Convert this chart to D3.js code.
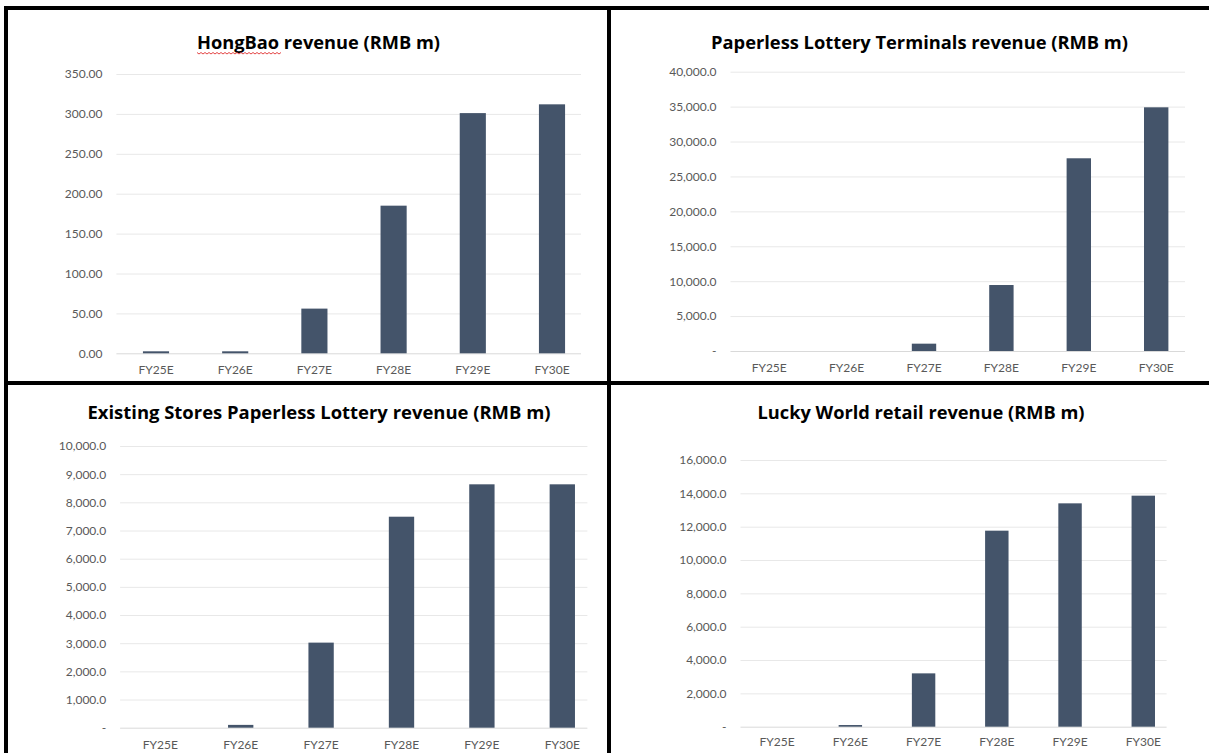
<!DOCTYPE html>
<html>
<head>
<meta charset="utf-8">
<script src="https://cdn.jsdelivr.net/npm/d3@7"></script>
<style>
  html, body { margin: 0; padding: 0; background: #fff; }
  svg { display: block; }
</style>
</head>
<body>
<svg id="chart" width="1209" height="753"></svg>
<script>
// ---------------- DATA ----------------
const categories = ["FY25E", "FY26E", "FY27E", "FY28E", "FY29E", "FY30E"];

const hongbaoRevenue        = [2.5, 2.5, 56, 185, 301, 312];
const terminalsRevenue      = [0, 0, 1050, 9450, 27600, 34900];
const existingStoresRevenue = [0, 100, 3020, 7490, 8640, 8640];
const luckyWorldRevenue     = [0, 100, 3200, 11760, 13400, 13860];

const hongbaoTicks        = [0, 50, 100, 150, 200, 250, 300, 350];
const terminalsTicks      = [0, 5000, 10000, 15000, 20000, 25000, 30000, 35000, 40000];
const existingStoresTicks = [0, 1000, 2000, 3000, 4000, 5000, 6000, 7000, 8000, 9000, 10000];
const luckyWorldTicks     = [0, 2000, 4000, 6000, 8000, 10000, 12000, 14000, 16000];

const titles = [
  "HongBao revenue (RMB m)",
  "Paperless Lottery Terminals revenue (RMB m)",
  "Existing Stores Paperless Lottery revenue (RMB m)",
  "Lucky World retail revenue (RMB m)"
];

// ---------------- FORMATS ----------------
const fmt2 = d3.format(".2f");
const fmtAcct = v => v === 0 ? "-" : d3.format(",.1f")(v);

// ---------------- LAYOUT ----------------
const panels = [
  { title: titles[0], values: hongbaoRevenue, ticks: hongbaoTicks, fmt: fmt2,
    x0: 116.4, x1: 591.6, gridEnd: 581, yBottom: 353.3, yTop: 74, titleX: 318.5, titleY: 49,
    titleW: 243, labelY: 374, barFrac: 0.33, spell: true },
  { title: titles[1], values: terminalsRevenue, ticks: terminalsTicks, fmt: fmtAcct,
    x0: 730.5, x1: 1194.9, gridEnd: 1185, yBottom: 351, yTop: 71.7, titleX: 919.5, titleY: 49,
    titleW: 417, labelY: 372.5, barFrac: 0.315 },
  { title: titles[2], values: existingStoresRevenue, ticks: existingStoresTicks, fmt: fmtAcct,
    x0: 120.1, x1: 602.5, gridEnd: 587.4, yBottom: 727.7, yTop: 446, titleX: 319, titleY: 419,
    titleW: 463, labelY: 749.5, barFrac: 0.315 },
  { title: titles[3], values: luckyWorldRevenue, ticks: luckyWorldTicks, fmt: fmtAcct,
    x0: 740.5, x1: 1179.9, gridEnd: 1166.6, yBottom: 726.7, yTop: 460, titleX: 921, titleY: 419,
    titleW: 327, labelY: 746, barFrac: 0.32 }
];

const svg = d3.select("#chart");
svg.append("rect").attr("width", 1209).attr("height", 753).attr("fill", "#fff");

const BAR = "#44546A";
const FONT = "Lato, 'Open Sans', sans-serif";
const TITLE_FONT = "'Open Sans', Lato, sans-serif";

panels.forEach(p => {
  const g = svg.append("g");
  const x = d3.scaleBand().domain(categories).range([p.x0, p.x1])
    .paddingInner(1 - p.barFrac).paddingOuter((1 - p.barFrac) / 2);
  const maxT = p.ticks[p.ticks.length - 1];
  const y = d3.scaleLinear().domain([0, maxT]).range([p.yBottom, p.yTop]);

  // gridlines + y labels via axis
  const yAxis = d3.axisLeft(y).tickValues(p.ticks).tickFormat(p.fmt)
    .tickSize(-(p.gridEnd - p.x0)).tickPadding(14);
  const ya = g.append("g").attr("transform", `translate(${p.x0},0)`).call(yAxis);
  ya.select(".domain").remove();
  ya.selectAll(".tick line").attr("stroke", "#e8e8e8").attr("stroke-width", 1);
  ya.selectAll(".tick text").attr("fill", "#595959").style("font-size", "12px")
    .style("font-family", FONT).attr("x", -14);
  ya.selectAll(".tick").filter(d => d === 0).select("line").attr("stroke", "#d9d9d9");

  // bars
  g.selectAll("rect.bar").data(p.values).enter().append("rect")
    .attr("class", "bar")
    .attr("x", (d, i) => x(categories[i]))
    .attr("width", x.bandwidth())
    .attr("y", d => y(d))
    .attr("height", d => y(0) - y(d))
    .attr("fill", BAR);

  // x axis labels
  const xAxis = d3.axisBottom(x).tickSize(0).tickPadding(0);
  const xa = g.append("g").attr("transform", `translate(0,${p.labelY - 9})`).call(xAxis);
  xa.select(".domain").remove();
  xa.selectAll(".tick text").attr("fill", "#595959").style("font-size", "12px")
    .style("font-family", FONT).attr("dy", "0.71em");

  // title
  const t = g.append("text")
    .attr("x", p.titleX).attr("y", p.titleY)
    .attr("text-anchor", "middle")
    .style("font-family", TITLE_FONT).style("font-weight", "bold").style("font-size", "17.5px")
    .attr("fill", "#000")
    .attr("textLength", p.titleW).attr("lengthAdjust", "spacingAndGlyphs")
    .text(p.title);

  if (p.spell) {
    // red wavy spell-check underline under the first word
    const startX = p.titleX - p.titleW / 2;
    const w = 83;
    const yy = p.titleY + 3.5;
    let d = `M${startX},${yy}`;
    for (let xx = startX, k = 0; xx < startX + w; xx += 2, k++) {
      d += ` L${xx + 2},${yy + (k % 2 === 0 ? 1.5 : 0)}`;
    }
    g.append("path").attr("d", d).attr("fill", "none").attr("stroke", "#e03030").attr("stroke-width", 0.9);
  }
});

// frame lines
const frame = svg.append("g").attr("fill", "#000");
frame.append("rect").attr("x", 4).attr("y", 6).attr("width", 1205).attr("height", 4);
frame.append("rect").attr("x", 4).attr("y", 6).attr("width", 4).attr("height", 747);
frame.append("rect").attr("x", 607).attr("y", 6).attr("width", 4).attr("height", 747);
frame.append("rect").attr("x", 4).attr("y", 381).attr("width", 1205).attr("height", 4);
</script>
</body>
</html>
